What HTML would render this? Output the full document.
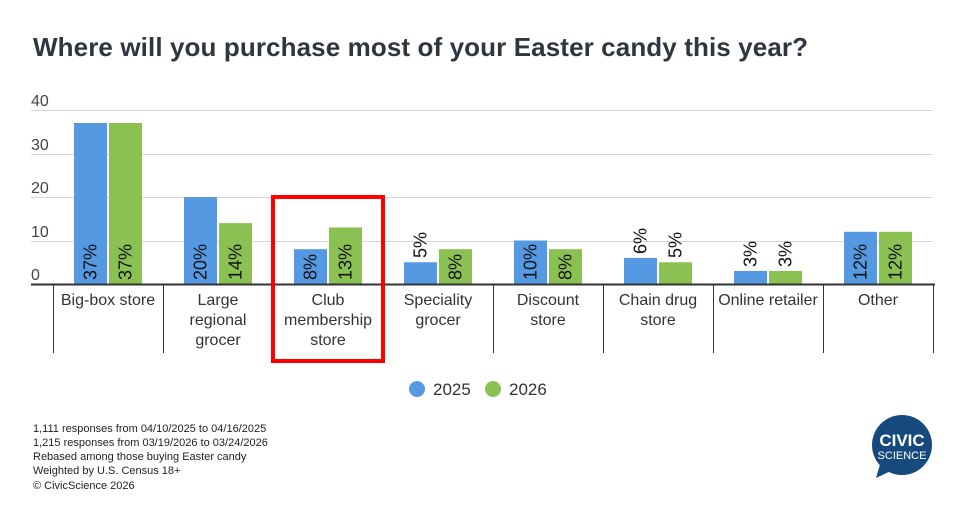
<!DOCTYPE html><html><head><style>body{margin:0;background:#fff}svg{display:block;font-family:"Liberation Sans",sans-serif}</style></head><body>
<svg width="966" height="508" xmlns="http://www.w3.org/2000/svg">
<text x="33" y="56" font-size="26" font-weight="bold" fill="#2f3640" textLength="775">Where will you purchase most of your Easter candy this year?</text>
<g stroke="#d6d6d6" stroke-width="1">
<line x1="31" y1="110.5" x2="933" y2="110.5"/><line x1="31" y1="154.5" x2="933" y2="154.5"/><line x1="31" y1="197.5" x2="933" y2="197.5"/><line x1="31" y1="241.5" x2="933" y2="241.5"/></g>
<g font-size="16" fill="#444"><text x="31" y="106">40</text><text x="31" y="150">30</text><text x="31" y="193">20</text><text x="31" y="237">10</text><text x="31" y="280">0</text></g>
<g fill="#5599e3">
<rect x="74" y="123" width="33" height="161"/><rect x="184" y="197" width="33" height="87"/><rect x="294" y="249.2" width="33" height="34.8"/><rect x="404" y="262.25" width="33" height="21.75"/><rect x="514" y="240.5" width="33" height="43.5"/><rect x="624" y="257.9" width="33" height="26.1"/><rect x="734" y="270.95" width="33" height="13.05"/><rect x="844" y="231.8" width="33" height="52.2"/></g>
<g fill="#8bc053">
<rect x="109" y="123" width="33" height="161"/><rect x="219" y="223.1" width="33" height="60.9"/><rect x="329" y="227.45" width="33" height="56.55"/><rect x="439" y="249.2" width="33" height="34.8"/><rect x="549" y="249.2" width="33" height="34.8"/><rect x="659" y="262.25" width="33" height="21.75"/><rect x="769" y="270.95" width="33" height="13.05"/><rect x="879" y="231.8" width="33" height="52.2"/></g>
<g font-size="18" fill="#111">
<text transform="translate(96.5,280) rotate(-90)">37%</text><text transform="translate(131.5,280) rotate(-90)">37%</text>
<text transform="translate(206.5,280) rotate(-90)">20%</text><text transform="translate(241.5,280) rotate(-90)">14%</text>
<text transform="translate(316.5,280) rotate(-90)">8%</text><text transform="translate(351.5,280) rotate(-90)">13%</text>
<text transform="translate(426.5,258) rotate(-90)">5%</text><text transform="translate(461.5,280) rotate(-90)">8%</text>
<text transform="translate(536.5,280) rotate(-90)">10%</text><text transform="translate(571.5,280) rotate(-90)">8%</text>
<text transform="translate(646.5,254) rotate(-90)">6%</text><text transform="translate(681.5,258) rotate(-90)">5%</text>
<text transform="translate(756.5,267) rotate(-90)">3%</text><text transform="translate(791.5,267) rotate(-90)">3%</text>
<text transform="translate(866.5,280) rotate(-90)">12%</text><text transform="translate(901.5,280) rotate(-90)">12%</text></g>
<line x1="31" y1="284.5" x2="935" y2="284.5" stroke="#333" stroke-width="2"/>
<g stroke="#333" stroke-width="1">
<line x1="53.5" y1="285" x2="53.5" y2="353"/><line x1="163.5" y1="285" x2="163.5" y2="353"/><line x1="273.5" y1="285" x2="273.5" y2="353"/><line x1="383.5" y1="285" x2="383.5" y2="353"/><line x1="493.5" y1="285" x2="493.5" y2="353"/><line x1="603.5" y1="285" x2="603.5" y2="353"/><line x1="713.5" y1="285" x2="713.5" y2="353"/><line x1="823.5" y1="285" x2="823.5" y2="353"/><line x1="933.5" y1="285" x2="933.5" y2="353"/></g>
<g font-size="16" fill="#333" text-anchor="middle">
<text x="108" y="305">Big-box store</text>
<text x="218" y="305">Large</text><text x="218" y="325">regional</text><text x="218" y="345">grocer</text>
<text x="328" y="305">Club</text><text x="328" y="325">membership</text><text x="328" y="345">store</text>
<text x="438" y="305">Speciality</text><text x="438" y="325">grocer</text>
<text x="548" y="305">Discount</text><text x="548" y="325">store</text>
<text x="658" y="305">Chain drug</text><text x="658" y="325">store</text>
<text x="768" y="305">Online retailer</text>
<text x="878" y="305">Other</text></g>
<rect x="273" y="197" width="110" height="164" fill="none" stroke="#f00" stroke-width="4"/>
<circle cx="417" cy="389" r="8" fill="#5599e3"/><text x="433" y="395" font-size="17" fill="#333">2025</text>
<circle cx="493" cy="389" r="8" fill="#8bc053"/><text x="509" y="395" font-size="17" fill="#333">2026</text>
<g font-size="11" fill="#222"><text x="33" y="432">1,111 responses from 04/10/2025 to 04/16/2025</text><text x="33" y="446">1,215 responses from 03/19/2026 to 03/24/2026</text><text x="33" y="460">Rebased among those buying Easter candy</text><text x="33" y="474">Weighted by U.S. Census 18+</text><text x="33" y="489">© CivicScience 2026</text></g>
<circle cx="902" cy="445" r="30" fill="#164a7e"/><polygon points="876,478 882,458 893,470" fill="#164a7e"/>
<text x="902" y="446" font-size="17" font-weight="bold" fill="#fff" text-anchor="middle">CIVIC</text>
<text x="902" y="459" font-size="11" fill="#fff" text-anchor="middle">SCIENCE</text>
</svg></body></html>
